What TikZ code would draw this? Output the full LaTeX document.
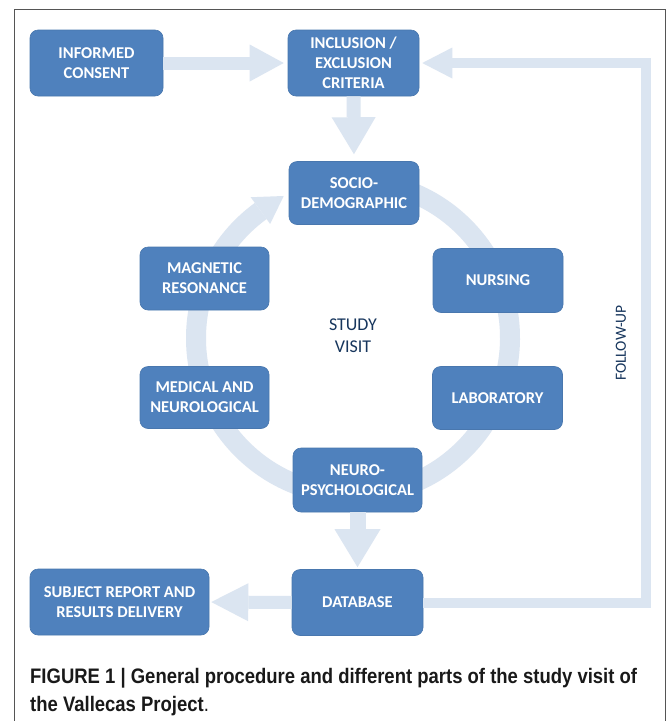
\documentclass[tikz,border=0pt]{standalone}
\usepackage{fontspec}
\setmainfont{Carlito}
\newfontfamily\capfont{Liberation Sans}[FakeStretch=0.88]
\usetikzlibrary{arrows.meta}
\definecolor{boxblue}{HTML}{4F81BD}
\definecolor{pale}{HTML}{DBE5F1}
\definecolor{navy}{HTML}{17365D}
\definecolor{framegray}{HTML}{555555}
\begin{document}
\begin{tikzpicture}[x=1pt,y=1pt,
  blk/.style={rounded corners=8pt, fill=boxblue, draw=boxblue!92!black, line width=0.6pt,
    text=white, font=\bfseries\fontsize{16.5}{20}\selectfont, align=center, inner sep=0pt},
  flow/.style={draw=pale, line width=#1},
  capstyle/.style={anchor=base west, inner sep=0pt, text=black!90,
    font=\capfont\bfseries\fontsize{21}{28}\selectfont},
  lbl/.style={text=navy, align=center, inner sep=0pt}
]
\useasboundingbox (0,0) rectangle (668,-721);
\fill[white] (0,0) rectangle (668,-721);
\draw[framegray, line width=1pt] (14,-721) -- (14,-9) -- (665,-9) -- (665,-721);

% ring of the study visit
\coordinate (ctr) at (353,-338);
\draw[pale, line width=20pt] ([shift={(85:157)}]ctr) arc[start angle=85, end angle=-234, radius=157];
\fill[pale] ([shift={(126:141)}]ctr) -- ([shift={(116:158)}]ctr) -- ([shift={(126:174)}]ctr) -- cycle;

% boxes
\node[blk, minimum width=133pt, minimum height=66pt] (consent) at (96.5,-63) {INFORMED\\CONSENT};
\node[blk, minimum width=131pt, minimum height=66pt] (incl) at (353.5,-63) {INCLUSION /\\EXCLUSION\\CRITERIA};
\node[blk, minimum width=130pt, minimum height=63pt] (socio) at (354,-193) {SOCIO-\\DEMOGRAPHIC};
\node[blk, minimum width=130pt, minimum height=64pt] (nursing) at (498,-280.5) {NURSING};
\node[blk, minimum width=130pt, minimum height=63pt] (lab) at (497.5,-398) {LABORATORY};
\node[blk, minimum width=129pt, minimum height=64pt] (neuro) at (357.5,-480) {NEURO-\\PSYCHOLOGICAL};
\node[blk, minimum width=129pt, minimum height=62pt] (medical) at (204.5,-397.5) {MEDICAL AND\\NEUROLOGICAL};
\node[blk, minimum width=129pt, minimum height=63pt] (magnetic) at (204.5,-278.5) {MAGNETIC\\RESONANCE};
\node[blk, minimum width=131pt, minimum height=66pt] (database) at (357.5,-602.5) {DATABASE};
\node[blk, minimum width=179pt, minimum height=66pt] (subject) at (119.5,-602) {SUBJECT REPORT AND\\RESULTS DELIVERY};

\node[lbl, font=\fontsize{18}{22}\selectfont] (visit) at (353,-336) {STUDY\\VISIT};
\node[lbl, font=\fontsize{15.5}{18}\selectfont, rotate=90] (follow) at (621,-343) {FOLLOW-UP};

% block arrows
\draw[flow=13pt, -{Triangle[length=34pt,width=37pt,line width=0pt]}, shorten >=4pt] (consent.east) -- (incl.west);
\draw[flow=14pt, -{Triangle[length=37pt,width=44pt,line width=0pt]}, shorten >=7pt] (incl.south) -- (socio.north);
\draw[flow=16pt, -{Triangle[length=38pt,width=46pt,line width=0pt]}, shorten >=2pt] (neuro.south) -- (database.north);
\draw[flow=13pt, -{Triangle[length=37pt,width=38pt,line width=0pt]}, shorten >=2pt] (database.west) -- (subject.east);
\coordinate (fu1) at (646,-602.5);
\coordinate (fu2) at (646,-63);
\draw[flow=10pt, -{Triangle[length=30pt,width=31pt,line width=0pt]}, shorten >=3pt] (database.east) -- (fu1) -- (fu2) -- (incl.east);

% caption
\node[capstyle] (cap1) at (30,-683) {FIGURE 1 | General procedure and different parts of the study visit of};
\node[capstyle] (cap2) at (30,-711) {the Vallecas Project\textmd{.}};
\end{tikzpicture}
\end{document}
